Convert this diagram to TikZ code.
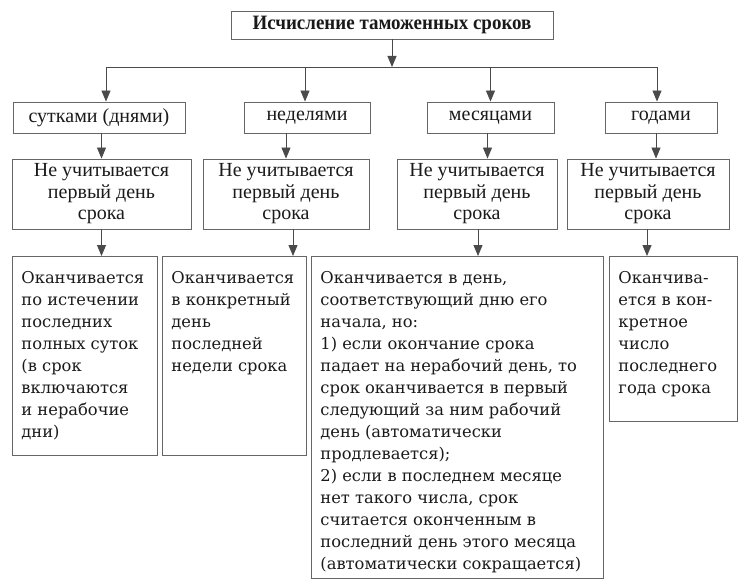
\documentclass[tikz,border=0pt]{standalone}
\usepackage{fontspec}
\setmainfont{Liberation Serif}
\newfontfamily\widefont{DejaVu Serif}
\newfontfamily\titlefont[FakeStretch=0.93]{Liberation Serif}
\usetikzlibrary{arrows.meta,calc}
\definecolor{boxgray}{HTML}{666666}
\definecolor{linegray}{HTML}{4A4A4A}
\definecolor{txt}{HTML}{1A1A1A}
\newcommand{\tbox}[3]{\vbox to #2{\hsize=#1\relax\parindent=0pt\leftskip=9pt\rightskip=0pt plus 1fil\baselineskip=22pt\vskip 15pt\relax #3\par\vfil}}
\tikzset{
  box/.style={draw=boxgray, line width=0.9pt, text=txt, inner sep=0pt, align=center},
  lvltwo/.style={box, font=\fontsize{20}{21}\selectfont, minimum height=31pt},
  lvlthree/.style={box, font=\fontsize{20}{21.5}\selectfont, minimum height=70pt},
  lvlfour/.style={draw=boxgray, line width=0.9pt, text=txt, inner sep=0pt, anchor=north west, font=\widefont\fontsize{16.3}{22}\selectfont},
  arr/.style={draw=linegray, line width=0.9pt, -{Triangle[width=9pt,length=11pt]}, shorten >=0pt},
}
\begin{document}
\begin{tikzpicture}[x=1pt,y=-1pt]
\useasboundingbox (0,0) rectangle (754,588);
% level 1
\node[box, font=\titlefont\bfseries\fontsize{20.4}{22}\selectfont, minimum width=322pt, minimum height=28pt] (top) at (392,25) {Исчисление таможенных сроков};
\coordinate (busL) at (106,67);
\coordinate (busR) at (657,67);
% level 2
\node[lvltwo, minimum width=172pt] (l2a) at (99,117.5) {сутками (днями)};
\node[lvltwo, minimum width=126pt] (l2b) at (307,117.5) {неделями};
\node[lvltwo, minimum width=127pt] (l2c) at (490.5,117.5) {месяцами};
\node[lvltwo, minimum width=112pt] (l2d) at (661,117.5) {годами};
% level 3
\node[lvlthree, minimum width=179pt] (l3a) at (101.5,194) {Не учитывается\\первый день\\срока};
\node[lvlthree, minimum width=166pt] (l3b) at (286,194) {Не учитывается\\первый день\\срока};
\node[lvlthree, minimum width=160pt] (l3c) at (477,194) {Не учитывается\\первый день\\срока};
\node[lvlthree, minimum width=162pt] (l3d) at (648,194) {Не учитывается\\первый день\\срока};
% level 4
\node[lvlfour] (l4a) at (12,256) {\tbox{145pt}{199pt}{Оканчивается\\по истечении\\последних\\полных суток\\(в срок\\включаются\\и нерабочие\\дни)}};
\node[lvlfour] (l4b) at (162,256) {\tbox{144pt}{199pt}{Оканчивается\\в конкретный\\день\\последней\\недели срока}};
\node[lvlfour] (l4c) at (311,256) {\tbox{292pt}{322pt}{Оканчивается в день,\\соответствующий дню его\\начала, но:\\1) если окончание срока\\падает на нерабочий день, то\\срок оканчивается в первый\\следующий за ним рабочий\\день (автоматически\\продлевается);\\2) если в последнем месяце\\нет такого числа, срок\\считается оконченным в\\последний день этого месяца\\(автоматически сокращается)}};
\node[lvlfour] (l4d) at (609,256) {\tbox{128pt}{165pt}{Оканчива-\\ется в кон-\\кретное\\число\\последнего\\года срока}};
% connectors
\draw[arr] (top.south) -- (top.south |- busL);
\draw[draw=linegray, line width=0.9pt] (busL) -- (busR);
\draw[arr] (busL) -- (busL |- l2a.north);
\draw[arr] ([xshift=-2pt]l2b.north |- busL) -- ([xshift=-2pt]l2b.north);
\draw[arr] (l2c.north |- busL) -- (l2c.north);
\draw[arr] (busR) -- (busR |- l2d.north);
\draw[arr] (l3a.north |- l2a.south) -- (l3a.north);
\draw[arr] (l3b.north |- l2b.south) -- (l3b.north);
\draw[arr] ([xshift=-3pt]l2c.south) -- ([xshift=-3pt]l2c.south |- l3c.north);
\draw[arr] ([xshift=-5pt]l2d.south) -- ([xshift=-5pt]l2d.south |- l3d.north);
\draw[arr] (l3a.south) -- (l3a.south |- l4a.north);
\draw[arr] ([xshift=7pt]l3b.south) -- ([xshift=7pt]l3b.south |- l4b.north);
\draw[arr] ([xshift=1pt]l3c.south) -- ([xshift=1pt]l3c.south |- l4c.north);
\draw[arr] ([xshift=-1pt]l3d.south) -- ([xshift=-1pt]l3d.south |- l4d.north);
\end{tikzpicture}
\end{document}
